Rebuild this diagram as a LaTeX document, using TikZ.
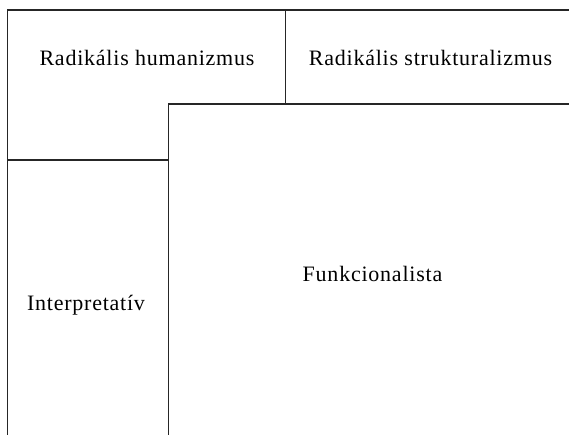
\documentclass[tikz,border=0pt]{standalone}
\usepackage{fontspec}
\setmainfont[LetterSpace=3.5]{Liberation Serif}
\begin{document}
\begin{tikzpicture}[x=1pt,y=-1pt,
  edge/.style={draw=black!85,line width=1.4pt},
  lbl/.style={font=\fontsize{22}{24}\selectfont,anchor=base,inner sep=0pt}]
\useasboundingbox (0,0) rectangle (569,435);
\coordinate (tl) at (7.5,10);
\coordinate (tr) at (569,10);
\coordinate (bl) at (7.5,435);
\coordinate (mt) at (285.5,10);
\coordinate (mb) at (285.5,104);
\coordinate (cr) at (569,104);
\coordinate (cc) at (168.5,104);
\coordinate (cb) at (168.5,435);
\coordinate (il) at (7.5,160);
\coordinate (ir) at (168.5,160);
\draw[edge] (bl) -- (tl) -- (tr);
\draw[edge] (mt) -- (mb);
\draw[edge] (cr) -- (cc) -- (cb);
\draw[edge] (il) -- (ir);
\node[lbl] (rh) at (147,66) {Radikális humanizmus};
\node[lbl] (rs) at (430.5,66) {Radikális strukturalizmus};
\node[lbl] (ip) at (86,310.5) {Interpretatív};
\node[lbl] (fu) at (372.5,281.5) {Funkcionalista};
\end{tikzpicture}
\end{document}
